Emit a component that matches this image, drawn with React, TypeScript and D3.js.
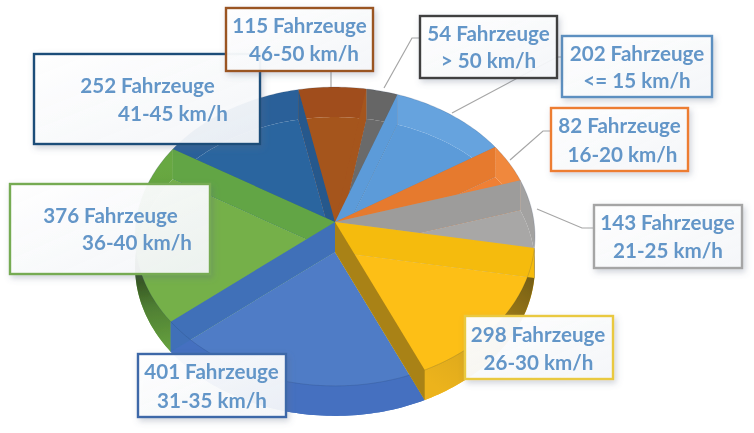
import React, { useRef, useEffect } from 'react';
import * as d3 from 'd3';

// Fahrzeuge per speed class, clockwise from the light blue slice
const speedClasses = ['<= 15 km/h', '16-20 km/h', '21-25 km/h', '26-30 km/h', '31-35 km/h', '36-40 km/h', '41-45 km/h', '46-50 km/h', '> 50 km/h'];
const vehicleCounts = [202, 82, 143, 298, 401, 376, 252, 115, 54];

const faceColors = ['#5b9bd9', '#ef8035', '#a8a7a6', '#fdbf12', '#507cc6', '#74b04a', '#2c659f', '#a5541f', '#6b6a6a'];
const startWallColors = ['#5b9bd9', '#e67a2e', '#9d9c9b', '#f5bb10', '#3f6fb8', '#74b04a', '#25588c', '#a5541f', '#5f5f5f'];
const endWallColors = ['#4d8acb', '#ef8035', '#a8a7a6', '#a98214', '#3f70b8', '#62a545', '#25588c', '#a5541f', '#5a5a5a'];
const stripColors = ['#66a3de', '#f0883e', '#a3a2a1', 'url(#sideYellow)', '#4470c0', 'url(#sideGreen)', '#2a6199', '#a04e1a', '#666666'];
const borderColors = ['#5b8fc0', '#ed7d31', '#a5a5a5', '#e9c93f', '#3e68a8', '#76ab52', '#1f4e79', '#9a5420', '#404040'];

// Back to front
const paintOrder = [8, 7, 6, 0, 1, 5, 2, 4, 3];

// x, y, width, height, then line 1 and line 2 anchors
const labelBoxes = [
  { x: 562, y: 36, w: 150, h: 61, x1: 637, y1: 61, x2: 637, y2: 88 },
  { x: 551, y: 108, w: 137, h: 63, x1: 619.5, y1: 133, x2: 622.5, y2: 162 },
  { x: 594, y: 205, w: 148, h: 63, x1: 667.5, y1: 230, x2: 668, y2: 258 },
  { x: 465, y: 316, w: 148, h: 63, x1: 538, y1: 342, x2: 538.5, y2: 370 },
  { x: 138, y: 354, w: 148, h: 63, x1: 211.5, y1: 379, x2: 212, y2: 408 },
  { x: 10, y: 184, w: 200, h: 90, x1: 110.5, y1: 223, x2: 137, y2: 250 },
  { x: 34, y: 54, w: 226, h: 90, x1: 147.5, y1: 93, x2: 173, y2: 121 },
  { x: 226, y: 8, w: 147, h: 63, x1: 299.5, y1: 33, x2: 304, y2: 61 },
  { x: 420, y: 16, w: 137, h: 62, x1: 488.5, y1: 41, x2: 488.5, y2: 68 },
];

const leaderLines: [number, number][][] = [
  [[331, 71], [331, 87]],
  [[420, 38], [412, 38], [384, 88]],
  [[562, 57], [557, 57], [452, 113]],
  [[551, 131], [543, 131], [510, 160]],
  [[594, 228], [582, 228], [537, 209]],
];

const App: React.FC = () => {
  const chartRef = useRef<SVGSVGElement | null>(null);

  useEffect(() => {
    if (!chartRef.current) return;

    const svg = d3.select(chartRef.current);
    svg.selectAll('*').remove();

    // Perspective of the disc: apex sits above the middle of the ellipse
    const apex = { x: 335, y: 222 };
    const depth = 30;
    const tilt = 0.097;
    const project = (a: number, dy = 0): [number, number] => {
      const d = 1 + tilt * Math.cos(a);
      return [apex.x + (199 * Math.sin(a)) / d, apex.y + dy - (148 * Math.cos(a)) / d];
    };
    const rim = (a0: number, a1: number, dy = 0) =>
      [...d3.range(a0, a1, 0.02), a1].map(a => project(a, dy));

    const line = d3.line();
    const closed = (pts: [number, number][]) => `${line(pts)}Z`;

    const startAngle = (20 * Math.PI) / 180;
    const arcs = d3.pie<number>()
      .sort(null)
      .startAngle(startAngle)
      .endAngle(startAngle + 2 * Math.PI)(vehicleCounts);

    // Defs
    const defs = svg.append('defs');
    const shadow = defs.append('filter').attr('id', 'boxShadow')
      .attr('x', '-10%').attr('y', '-10%').attr('width', '125%').attr('height', '130%');
    shadow.append('feDropShadow')
      .attr('dx', 2).attr('dy', 3).attr('stdDeviation', 3)
      .attr('flood-color', '#5a6a80').attr('flood-opacity', 0.3);

    const soften = defs.append('filter').attr('id', 'soften');
    soften.append('feGaussianBlur').attr('stdDeviation', 0.35);

    const sideYellow = defs.append('linearGradient').attr('id', 'sideYellow')
      .attr('gradientUnits', 'userSpaceOnUse')
      .attr('x1', 535).attr('y1', 270).attr('x2', 440).attr('y2', 390);
    sideYellow.append('stop').attr('offset', 0).attr('stop-color', '#6f5a14');
    sideYellow.append('stop').attr('offset', 0.4).attr('stop-color', '#a07c12');
    sideYellow.append('stop').attr('offset', 0.65).attr('stop-color', '#dca81a');
    sideYellow.append('stop').attr('offset', 1).attr('stop-color', '#ecb31c');

    const sideGreen = defs.append('linearGradient').attr('id', 'sideGreen')
      .attr('gradientUnits', 'userSpaceOnUse')
      .attr('x1', 150).attr('y1', 170).attr('x2', 175).attr('y2', 350);
    sideGreen.append('stop').attr('offset', 0).attr('stop-color', '#68a842');
    sideGreen.append('stop').attr('offset', 0.3).attr('stop-color', '#5f9c3c');
    sideGreen.append('stop').attr('offset', 0.55).attr('stop-color', '#2f4a1e');
    sideGreen.append('stop').attr('offset', 0.75).attr('stop-color', '#4f7f33');
    sideGreen.append('stop').attr('offset', 1).attr('stop-color', '#66a23f');

    const boxFill = defs.append('linearGradient').attr('id', 'boxFill')
      .attr('x1', 0).attr('y1', 0).attr('x2', 1).attr('y2', 1);
    boxFill.append('stop').attr('offset', 0).attr('stop-color', '#ffffff').attr('stop-opacity', 0.96);
    boxFill.append('stop').attr('offset', 1).attr('stop-color', '#f6f8fb').attr('stop-opacity', 0.92);

    // Slices
    const pie = svg.append('g').attr('filter', 'url(#soften)');
    paintOrder.forEach(i => {
      const { startAngle: a0, endAngle: a1 } = arcs[i];
      const g = pie.append('g');

      // floor of the slice
      g.append('path')
        .attr('d', closed([[apex.x, apex.y + depth], ...rim(a0, a1, depth)]))
        .attr('fill', faceColors[i]);

      // outer wall between the two rims
      g.append('path')
        .attr('d', closed([...rim(a0, a1), ...rim(a0, a1, depth).reverse()]))
        .attr('fill', stripColors[i]);

      // the two straight walls
      const [sx, sy] = project(a0);
      const [ex, ey] = project(a1);
      g.append('path')
        .attr('d', closed([[apex.x, apex.y], [sx, sy], [sx, sy + depth], [apex.x, apex.y + depth]]))
        .attr('fill', startWallColors[i]);
      g.append('path')
        .attr('d', closed([[apex.x, apex.y], [ex, ey], [ex, ey + depth], [apex.x, apex.y + depth]]))
        .attr('fill', endWallColors[i]);

      // rim line
      g.append('path')
        .attr('d', line(rim(a0, a1)))
        .attr('fill', 'none')
        .attr('stroke', '#1d3557')
        .attr('stroke-opacity', 0.22)
        .attr('stroke-width', 0.8);
    });

    // Leader lines
    svg.append('g')
      .selectAll('path')
      .data(leaderLines)
      .join('path')
      .attr('d', d => line(d))
      .attr('fill', 'none')
      .attr('stroke', '#a6a6a6')
      .attr('stroke-width', 1.2);

    // Labels
    const labels = svg.append('g')
      .selectAll('g')
      .data(d3.range(vehicleCounts.length))
      .join('g');

    labels.append('rect')
      .attr('x', i => labelBoxes[i].x)
      .attr('y', i => labelBoxes[i].y)
      .attr('width', i => labelBoxes[i].w)
      .attr('height', i => labelBoxes[i].h)
      .attr('fill', 'url(#boxFill)')
      .attr('stroke', i => borderColors[i])
      .attr('stroke-width', 2.4)
      .attr('filter', 'url(#boxShadow)');

    const text = labels.append('g')
      .attr('font-family', 'Lato, sans-serif')
      .attr('font-weight', 700)
      .attr('font-size', 20.6)
      .attr('fill', '#6496c8')
      .attr('text-anchor', 'middle')
      .attr('filter', 'url(#soften)');

    text.append('text')
      .attr('x', i => labelBoxes[i].x1)
      .attr('y', i => labelBoxes[i].y1)
      .text(i => `${vehicleCounts[i]} Fahrzeuge`);

    text.append('text')
      .attr('x', i => labelBoxes[i].x2)
      .attr('y', i => labelBoxes[i].y2)
      .text(i => speedClasses[i]);
  }, []);

  return (
    <svg
      ref={chartRef}
      width={754}
      height={433}
      style={{ position: 'absolute', left: 0, top: 0, background: '#fff' }}
    />
  );
};

export default App;
